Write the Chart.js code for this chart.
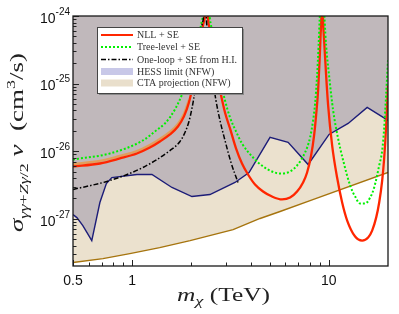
<!DOCTYPE html>
<html>
<head>
<meta charset="utf-8">
<title>sigma v vs m_chi</title>
<script src="https://cdn.jsdelivr.net/npm/chart.js"></script>
<style>
  html, body { margin: 0; padding: 0; background: #fff; }
  #box { width: 399px; height: 314px; position: relative; }
</style>
</head>
<body>
<div id="box"><canvas id="sigmaChart"></canvas></div>
<script>
// mass in TeV, cross section in cm^3/s

const nllMass = [0.5, 0.685, 0.866, 1.057, 1.23, 1.384, 1.556, 1.709, 1.834, 1.944, 2.037, 2.135, 2.212, 2.291, 2.346, 2.387, 2.428, 2.486, 2.575, 2.667, 2.796, 2.965, 3.144, 3.373, 3.618, 3.882, 4.215, 4.63, 5.144, 5.784, 6.355, 6.897, 7.398, 7.755, 8.127, 8.418, 8.617, 8.821, 8.978, 9.083, 9.17, 9.245, 9.332, 9.465, 9.69, 9.92, 10.4, 11.02, 11.69, 12.4, 13.61, 14.77, 15.85, 16.61, 17.41, 18.04, 18.68, 19.12, 19.58, 20];
const nllSigma = [5.93e-27, 6.57e-27, 7.8e-27, 9.24e-27, 1.13e-26, 1.39e-26, 1.77e-26, 2.32e-26, 3.27e-26, 5.26e-26, 9.4e-26, 1.86e-25, 3.68e-25, 7.28e-25, 1.14e-24, 5e-24, 1.02e-24, 6.14e-25, 3.1e-25, 1.57e-25, 7.93e-26, 3.74e-26, 2.17e-26, 1.1e-26, 6.57e-27, 4.52e-27, 3.21e-27, 2.53e-27, 2.13e-27, 1.93e-27, 2.06e-27, 2.53e-27, 3.44e-27, 4.83e-27, 8.63e-27, 1.71e-26, 3.38e-26, 7.93e-26, 2.21e-25, 5.18e-25, 1.02e-24, 5e-24, 1.02e-24, 4.37e-25, 1.32e-25, 4.75e-26, 1.21e-26, 4.07e-27, 1.74e-27, 9.4e-28, 5.45e-28, 4.75e-28, 5.27e-28, 6.68e-28, 1.04e-27, 1.74e-27, 3.68e-27, 7.8e-27, 2.4e-26, 9.4e-26];

// upper edge of the NLL band (only visible at low mass)
const nllBandMass = [0.5, 0.685, 0.866, 1.057, 1.23, 1.384, 1.556, 1.709, 1.834, 1.944];
const nllBandSigma = [6.45e-27, 7.15e-27, 8.5e-27, 1.0e-26, 1.23e-26, 1.51e-26, 1.92e-26, 2.52e-26, 3.55e-26, 5.7e-26];

const treeMass = [0.5, 0.77, 1.134, 1.305, 1.467, 1.556, 1.65, 1.75, 1.855, 1.967, 2.086, 2.186, 2.264, 2.318, 2.387, 2.457, 2.545, 2.667, 2.796, 2.965, 3.144, 3.373, 3.618, 4.118, 4.63, 5.144, 5.651, 6.355, 6.897, 7.398, 7.755, 8.032, 8.32, 8.517, 8.718, 8.873, 8.978, 9.245, 9.52, 9.69, 10.03, 10.52, 11.15, 11.83, 12.84, 13.61, 14.43, 15.3, 16.23, 17.01, 18.04, 18.68, 19.12, 19.58, 20];
const treeSigma = [7.53e-27, 9.24e-27, 1.44e-26, 1.96e-26, 2.57e-26, 3.16e-26, 4.15e-26, 5.83e-26, 9.1e-26, 1.57e-25, 2.9e-25, 5.18e-25, 8.64e-25, 1.21e-24, 5e-24, 1.21e-24, 6.14e-25, 2.62e-25, 1.19e-25, 5.64e-26, 3.16e-26, 1.96e-26, 1.3e-26, 8.07e-27, 5.93e-27, 5.0e-27, 4.67e-27, 5.0e-27, 6.14e-27, 8.35e-27, 1.13e-26, 1.6e-26, 2.85e-26, 5.09e-26, 1.32e-25, 3.68e-25, 8.64e-25, 5e-24, 8.64e-25, 3.68e-25, 1.32e-25, 4.01e-26, 1.54e-26, 7.28e-27, 3.1e-27, 2.13e-27, 1.68e-27, 1.68e-27, 2.06e-27, 2.9e-27, 6.14e-27, 1.02e-26, 2.17e-26, 7.16e-26, 2.21e-25];

const loopMass = [0.5, 0.77, 1.134, 1.556, 1.75, 1.855, 1.944, 2.013, 2.086, 2.16, 2.212, 2.264, 2.318, 2.346, 2.373, 2.428, 2.486, 2.575, 2.667, 2.796, 2.965, 3.181, 3.452];
const loopSigma = [2.71e-27, 3.68e-27, 5.74e-27, 1.02e-26, 1.39e-26, 1.89e-26, 2.75e-26, 4.29e-26, 7.93e-26, 1.86e-25, 3.68e-25, 7.28e-25, 1.21e-24, 5e-24, 1.21e-24, 5.18e-25, 2.62e-25, 1.12e-25, 5.64e-26, 2.85e-26, 1.44e-26, 6.8e-27, 3.44e-27];

const hessMass = [0.5, 0.523, 0.561, 0.623, 0.685, 0.739, 0.788, 1.057, 1.26, 1.593, 2.013, 2.486, 3.333, 3.93, 5.024, 6.21, 7.85, 10.03, 12.54, 15.67, 20];
const hessSigma = [1.15e-27, 1.04e-27, 7.93e-28, 4.75e-28, 1.74e-27, 3.32e-27, 4.07e-27, 4.52e-27, 4.52e-27, 2.9e-27, 2.13e-27, 2.28e-27, 3.44e-27, 4.83e-27, 1.6e-26, 1.35e-26, 6.35e-27, 1.77e-26, 2.57e-26, 4.44e-26, 2.85e-26];

const ctaMass = [0.5, 0.71, 0.973, 1.38, 1.97, 3.26, 4.47, 5.65, 8.03, 20];
const ctaSigma = [2.25e-28, 2.57e-28, 3.05e-28, 3.74e-28, 4.75e-28, 6.9e-28, 1.01e-27, 1.28e-27, 1.86e-27, 4.83e-27];

const xMajorTicks = [0.5, 1, 10];
const xTickLabels = ['0.5', '1', '10'];
const xMinorTicks = [0.6, 0.7, 0.8, 0.9, 2, 3, 4, 5, 6, 7, 8, 9];
const yMajorTicks = [1e-24, 1e-25, 1e-26, 1e-27];
const yTickExponents = ['-24', '-25', '-26', '-27'];
const yMinorTicks = [3e-28, 4e-28, 5e-28, 6e-28, 7e-28, 8e-28, 9e-28,
  2e-27, 3e-27, 4e-27, 5e-27, 6e-27, 7e-27, 8e-27, 9e-27,
  2e-26, 3e-26, 4e-26, 5e-26, 6e-26, 7e-26, 8e-26, 9e-26,
  2e-25, 3e-25, 4e-25, 5e-25, 6e-25, 7e-25, 8e-25, 9e-25];

const legendLabels = ['NLL + SE', 'Tree-level + SE', 'One-loop + SE from H.I.', 'HESS limit (NFW)', 'CTA projection (NFW)'];

const RED = 'rgb(255,38,0)';
const GREEN = 'rgb(0,240,0)';
const NAVY = 'rgb(28,28,120)';
const GOLD = 'rgb(166,116,14)';
const MAUVE = 'rgb(192,184,187)';
const BEIGE = 'rgb(235,225,206)';

const serif = '"Liberation Serif", "Times New Roman", serif';
const sans = '"Liberation Sans", Arial, sans-serif';

function pts(ms, ss) {
    return ms.map((m, i) => ({ x: m, y: ss[i] }));
}

function richWidth(ctx, parts) {
    let w = 0;
    parts.forEach(p => { ctx.font = p.font; w += ctx.measureText(p.text).width; });
    return w;
}

function drawRich(ctx, parts, x, y) {
    parts.forEach(p => {
        ctx.font = p.font;
        ctx.fillText(p.text, x, y + (p.dy || 0));
        x += ctx.measureText(p.text).width;
    });
}

// rich text centred on (cx, cy), stretched to a given width
function drawTitle(ctx, parts, cx, cy, width, angle) {
    const w = richWidth(ctx, parts);
    ctx.save();
    ctx.translate(cx, cy);
    ctx.rotate(angle);
    ctx.scale(width / w, 1);
    ctx.textBaseline = 'alphabetic';
    ctx.textAlign = 'left';
    drawRich(ctx, parts, -w / 2, 0);
    ctx.restore();
}

const decor = {
    id: 'decor',
    afterDatasetsDraw(chart) {
        const { ctx, chartArea: a, scales: { x, y } } = chart;
        ctx.save();

        // inward ticks, bottom and left only
        ctx.strokeStyle = '#222';
        ctx.lineWidth = 1;
        ctx.beginPath();
        xMajorTicks.forEach(v => {
            const p = Math.round(x.getPixelForValue(v)) + 0.5;
            ctx.moveTo(p, a.bottom); ctx.lineTo(p, a.bottom - 6);
        });
        xMinorTicks.forEach(v => {
            const p = Math.round(x.getPixelForValue(v)) + 0.5;
            ctx.moveTo(p, a.bottom); ctx.lineTo(p, a.bottom - 3.5);
        });
        yMajorTicks.forEach(v => {
            const p = Math.round(y.getPixelForValue(v)) + 0.5;
            ctx.moveTo(a.left, p); ctx.lineTo(a.left + 6, p);
        });
        yMinorTicks.forEach(v => {
            const p = Math.round(y.getPixelForValue(v)) + 0.5;
            ctx.moveTo(a.left, p); ctx.lineTo(a.left + 3.5, p);
        });
        ctx.stroke();

        // frame
        ctx.lineWidth = 1.3;
        ctx.strokeStyle = '#1a1a1a';
        ctx.strokeRect(a.left, a.top, a.right - a.left, a.bottom - a.top);

        // tick labels
        ctx.fillStyle = '#111';
        ctx.font = '14px ' + sans;
        ctx.textAlign = 'center';
        ctx.textBaseline = 'middle';
        xMajorTicks.forEach((v, i) => {
            ctx.fillText(xTickLabels[i], x.getPixelForValue(v), a.bottom + 15);
        });
        ctx.textAlign = 'left';
        yMajorTicks.forEach((v, i) => {
            const p = y.getPixelForValue(v);
            ctx.font = '10px ' + sans;
            const ws = ctx.measureText(yTickExponents[i]).width;
            ctx.font = '14px ' + sans;
            const wb = ctx.measureText('10').width;
            const right = a.left - 3;
            ctx.fillText('10', right - ws - wb, p + 3);
            ctx.font = '10px ' + sans;
            ctx.fillText(yTickExponents[i], right - ws, p - 4);
        });

        // axis titles
        ctx.fillStyle = '#222';
        drawTitle(ctx, [
            { text: 'm', font: 'italic 18px ' + serif },
            { text: 'χ', font: 'italic 13px ' + serif, dy: 4 },
            { text: ' (TeV)', font: '18px ' + serif }
        ], 223.5, 301, 93, 0);
        drawTitle(ctx, [
            { text: 'σ', font: 'italic 18px ' + serif },
            { text: 'γγ', font: 'italic 12px ' + serif, dy: 5 },
            { text: '+', font: '12px ' + serif, dy: 5 },
            { text: 'Zγ', font: 'italic 12px ' + serif, dy: 5 },
            { text: '/2', font: '12px ' + serif, dy: 5 },
            { text: ' v', font: 'italic 18px ' + serif },
            { text: '  (cm', font: '18px ' + serif },
            { text: '3', font: '12px ' + serif, dy: -8 },
            { text: '/s)', font: '18px ' + serif }
        ], 23, 142.5, 179, -Math.PI / 2);

        // legend box
        const lx = 97, ly = 27, lw = 145, lh = 66;
        ctx.fillStyle = '#8a8a8a';
        ctx.fillRect(lx + 2, ly + 2, lw, lh);
        ctx.fillStyle = '#fff';
        ctx.fillRect(lx, ly, lw, lh);
        ctx.strokeStyle = '#444';
        ctx.lineWidth = 1;
        ctx.strokeRect(lx + 0.5, ly + 0.5, lw, lh);

        const rows = [35, 47, 59.5, 71.5, 83];
        const x0 = 101, x1 = 133;
        ctx.lineCap = 'butt';
        // NLL
        ctx.strokeStyle = RED; ctx.lineWidth = 2; ctx.setLineDash([]);
        ctx.beginPath(); ctx.moveTo(x0, rows[0]); ctx.lineTo(x1, rows[0]); ctx.stroke();
        // tree level
        ctx.strokeStyle = GREEN; ctx.lineWidth = 2; ctx.setLineDash([2, 2]);
        ctx.beginPath(); ctx.moveTo(x0, rows[1]); ctx.lineTo(x1, rows[1]); ctx.stroke();
        // one loop
        ctx.strokeStyle = '#000'; ctx.lineWidth = 1.5; ctx.setLineDash([5, 2, 1.5, 2]);
        ctx.beginPath(); ctx.moveTo(x0, rows[2]); ctx.lineTo(x1, rows[2]); ctx.stroke();
        ctx.setLineDash([]);
        ctx.fillStyle = 'rgb(200,200,232)';
        ctx.fillRect(x0, rows[3] - 3.5, x1 - x0, 7);
        ctx.fillStyle = 'rgb(233,223,204)';
        ctx.fillRect(x0, rows[4] - 3.5, x1 - x0, 7);

        ctx.fillStyle = '#333';
        ctx.font = '10px ' + serif;
        ctx.textAlign = 'left';
        ctx.textBaseline = 'middle';
        legendLabels.forEach((t, i) => ctx.fillText(t, 137, rows[i] + 0.5));

        ctx.restore();
    }
};

const curve = {
    fill: false,
    pointRadius: 0,
    cubicInterpolationMode: 'monotone',
    borderJoinStyle: 'round'
};

new Chart(document.getElementById('sigmaChart'), {
    type: 'line',
    data: {
        datasets: [
            { ...curve, label: legendLabels[2], data: pts(loopMass, loopSigma), borderColor: '#000',
              borderWidth: 1.5, borderDash: [5, 2, 1.5, 2], order: 0 },
            { ...curve, label: legendLabels[1], data: pts(treeMass, treeSigma), borderColor: GREEN,
              borderWidth: 2, borderDash: [2, 2], order: 1 },
            { ...curve, label: legendLabels[0], data: pts(nllMass, nllSigma), borderColor: RED,
              borderWidth: 2.3, order: 2 },
            { ...curve, label: 'NLL band', data: pts(nllBandMass, nllBandSigma), borderColor: 'rgba(238,150,60,0.75)',
              borderWidth: 2.5, order: 3 },
            { label: legendLabels[3], data: pts(hessMass, hessSigma), borderColor: NAVY, borderWidth: 1.4,
              backgroundColor: MAUVE, fill: 'end', tension: 0, pointRadius: 0, order: 4 },
            { label: legendLabels[4], data: pts(ctaMass, ctaSigma), borderColor: GOLD, borderWidth: 1.4,
              backgroundColor: BEIGE, fill: 'end', tension: 0, pointRadius: 0, order: 5 }
        ]
    },
    options: {
        responsive: true,
        maintainAspectRatio: false,
        animation: false,
        layout: { padding: { left: 73, right: 11, top: 16, bottom: 48 } },
        plugins: {
            legend: { display: false },
            tooltip: { enabled: false }
        },
        scales: {
            x: { type: 'logarithmic', min: 0.5, max: 20, display: false },
            y: { type: 'logarithmic', min: 2e-28, max: 1e-24, display: false }
        }
    },
    plugins: [decor]
});
</script>
</body>
</html>
